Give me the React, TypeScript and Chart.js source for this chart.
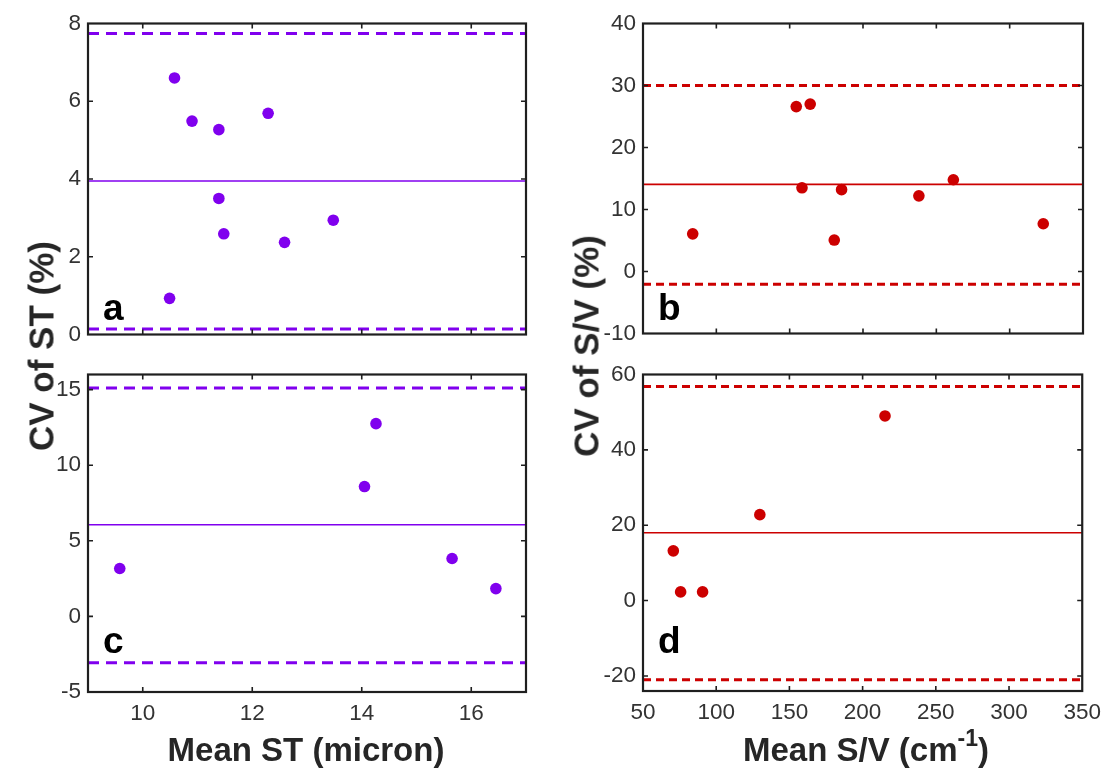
import React, { useEffect, useRef } from "react";
import { Chart, registerables } from "chart.js";

Chart.register(...registerables);

const FONT = '"Liberation Sans", Arial, Helvetica, sans-serif';
const PURPLE = "#8000ee";
const RED = "#cc0000";
const INK = "#1f1f1f";
const TICK_INK = "#333333";

// ---------- Panel a : ST repeatability (top-left) ----------
const aMeanST = [10.58, 10.9, 11.39, 12.29, 11.39, 11.48, 12.59, 13.48, 10.49];
const aCvST = [6.6, 5.49, 5.27, 5.69, 3.5, 2.59, 2.37, 2.94, 0.93];
const aBias = 3.95;
const aUpper = 7.74;
const aLower = 0.14;
const aYTicks = [0, 2, 4, 6, 8];

// ---------- Panel c : ST (bottom-left) ----------
const cMeanST = [9.58, 14.05, 14.26, 15.65, 16.45];
const cCvST = [3.17, 8.59, 12.75, 3.83, 1.84];
const cBias = 6.06;
const cUpper = 15.1;
const cLower = -3.07;
const cYTicks = [-5, 0, 5, 10, 15];

const stXTicks = [10, 12, 14, 16];
const stXRange = [9, 17];

// ---------- Panel b : S/V (top-right) ----------
const bMeanSV = [83.9, 154.5, 164, 158.4, 185.4, 180.4, 238.1, 261.6, 322.9];
const bCvSV = [6.07, 26.6, 27.0, 13.5, 13.2, 5.07, 12.2, 14.8, 7.7];
const bBias = 14.06;
const bUpper = 30.0;
const bLower = -2.04;
const bYTicks = [-10, 0, 10, 20, 30, 40];

// ---------- Panel d : S/V (bottom-right) ----------
const dMeanSV = [70.7, 75.7, 90.7, 129.8, 215.3];
const dCvSV = [13.2, 2.3, 2.3, 22.8, 49.0];
const dBias = 18.0;
const dUpper = 56.8;
const dLower = -21.0;
const dYTicks = [-20, 0, 20, 40, 60];

const svXTicks = [50, 100, 150, 200, 250, 300, 350];
const svXRange = [50, 350];

type PanelSpec = {
  L: number;
  T: number;
  R: number;
  B: number;
  xs: number[];
  ys: number[];
  bias: number;
  upper: number;
  lower: number;
  color: string;
  dash: number[];
  xRange: number[];
  yRange: number[];
  xTicks: number[];
  yTicks: number[];
  showX: boolean;
  letter: string;
  letterDx: number;
  letterDy: number;
};

const Y_AXIS_W = 60;
const PAD_TOP = 20;
const PAD_RIGHT = 26;
const X_AXIS_H = 38;
const PAD_BOTTOM_TOP_ROW = 12;
const TICK_FONT = 22.5;

function framePlugin(spec: PanelSpec) {
  return {
    id: "frame_" + spec.letter,
    afterDraw(chart: any) {
      const { ctx, chartArea } = chart;
      const { left, right, top, bottom } = chartArea;
      const xs = chart.scales.x;
      const ys = chart.scales.y;
      ctx.save();
      ctx.strokeStyle = INK;
      ctx.lineWidth = 1.6;
      const tl = 5;
      ctx.beginPath();
      spec.xTicks.forEach((v) => {
        if (v <= spec.xRange[0] || v >= spec.xRange[1]) return;
        const p = xs.getPixelForValue(v);
        ctx.moveTo(p, bottom);
        ctx.lineTo(p, bottom - tl);
        ctx.moveTo(p, top);
        ctx.lineTo(p, top + tl);
      });
      spec.yTicks.forEach((v) => {
        if (v <= spec.yRange[0] || v >= spec.yRange[1]) return;
        const p = ys.getPixelForValue(v);
        ctx.moveTo(left, p);
        ctx.lineTo(left + tl, p);
        ctx.moveTo(right, p);
        ctx.lineTo(right - tl, p);
      });
      ctx.stroke();
      ctx.lineWidth = 2.2;
      ctx.strokeRect(left, top, right - left, bottom - top);
      ctx.fillStyle = "#000000";
      ctx.font = `bold 37px ${FONT}`;
      ctx.textAlign = "left";
      ctx.textBaseline = "alphabetic";
      ctx.fillText(spec.letter, left + spec.letterDx, bottom - spec.letterDy);
      ctx.restore();
    },
  };
}

function Panel({ spec }: { spec: PanelSpec }) {
  const ref = useRef<HTMLCanvasElement>(null);
  const canvasLeft = spec.L - Y_AXIS_W;
  const canvasTop = spec.T - PAD_TOP;
  const width = spec.R + PAD_RIGHT - canvasLeft;
  const bottomExtra = spec.showX ? X_AXIS_H : PAD_BOTTOM_TOP_ROW;
  const height = spec.B + bottomExtra - canvasTop;

  useEffect(() => {
    const [xMin, xMax] = spec.xRange;
    const pts = spec.xs.map((x, i) => ({ x, y: spec.ys[i] }));
    const hline = (v: number) => [
      { x: xMin, y: v },
      { x: xMax, y: v },
    ];
    const chart = new Chart(ref.current as HTMLCanvasElement, {
      type: "scatter",
      data: {
        datasets: [
          {
            data: pts,
            backgroundColor: spec.color,
            borderColor: spec.color,
            pointRadius: 5.8,
            pointHoverRadius: 5.8,
            borderWidth: 0,
            order: 0,
          },
          {
            data: hline(spec.bias),
            showLine: true,
            borderColor: spec.color,
            borderWidth: 1.6,
            pointRadius: 0,
            order: 1,
          },
          {
            data: hline(spec.upper),
            showLine: true,
            borderColor: spec.color,
            borderWidth: 3,
            borderDash: spec.dash,
            pointRadius: 0,
            order: 1,
          },
          {
            data: hline(spec.lower),
            showLine: true,
            borderColor: spec.color,
            borderWidth: 3,
            borderDash: spec.dash,
            pointRadius: 0,
            order: 1,
          },
        ] as any,
      },
      options: {
        animation: false,
        responsive: true,
        maintainAspectRatio: false,
        layout: {
          padding: {
            top: PAD_TOP,
            right: PAD_RIGHT,
            bottom: spec.showX ? 0 : PAD_BOTTOM_TOP_ROW,
            left: 0,
          },
        },
        plugins: {
          legend: { display: false },
          tooltip: { enabled: false },
        },
        scales: {
          x: {
            type: "linear",
            min: xMin,
            max: xMax,
            afterBuildTicks: (s: any) => {
              s.ticks = spec.xTicks.map((v) => ({ value: v }));
            },
            afterFit: (s: any) => {
              s.height = spec.showX ? X_AXIS_H : 0;
            },
            grid: { display: false, drawTicks: false },
            border: { display: false },
            ticks: {
              display: spec.showX,
              autoSkip: false,
              maxRotation: 0,
              padding: 8,
              color: TICK_INK,
              font: { family: FONT, size: TICK_FONT },
            },
          },
          y: {
            type: "linear",
            min: spec.yRange[0],
            max: spec.yRange[1],
            afterBuildTicks: (s: any) => {
              s.ticks = spec.yTicks.map((v) => ({ value: v }));
            },
            afterFit: (s: any) => {
              s.width = Y_AXIS_W;
            },
            grid: { display: false, drawTicks: false },
            border: { display: false },
            ticks: {
              autoSkip: false,
              padding: 7,
              color: TICK_INK,
              font: { family: FONT, size: TICK_FONT },
            },
          },
        } as any,
      },
      plugins: [framePlugin(spec)],
    });
    return () => chart.destroy();
  }, []);

  return (
    <div
      style={{
        position: "absolute",
        left: canvasLeft,
        top: canvasTop,
        width,
        height,
      }}
    >
      <canvas ref={ref} />
    </div>
  );
}

const panels: PanelSpec[] = [
  {
    L: 88, T: 23, R: 526, B: 343,
    xs: aMeanST, ys: aCvST, bias: aBias, upper: aUpper, lower: aLower,
    color: PURPLE, dash: [11, 7], xRange: stXRange, yRange: [0, 8],
    xTicks: stXTicks, yTicks: aYTicks, showX: false,
    letter: "a", letterDx: 15, letterDy: 15,
  },
  {
    L: 643, T: 23, R: 1083, B: 342,
    xs: bMeanSV, ys: bCvSV, bias: bBias, upper: bUpper, lower: bLower,
    color: RED, dash: [8, 5], xRange: svXRange, yRange: [-10, 40],
    xTicks: svXTicks, yTicks: bYTicks, showX: false,
    letter: "b", letterDx: 15, letterDy: 14,
  },
  {
    L: 88, T: 374, R: 526, B: 692,
    xs: cMeanST, ys: cCvST, bias: cBias, upper: cUpper, lower: cLower,
    color: PURPLE, dash: [11, 7], xRange: stXRange, yRange: [-5, 16],
    xTicks: stXTicks, yTicks: cYTicks, showX: true,
    letter: "c", letterDx: 15, letterDy: 39,
  },
  {
    L: 643, T: 374, R: 1083, B: 691,
    xs: dMeanSV, ys: dCvSV, bias: dBias, upper: dUpper, lower: dLower,
    color: RED, dash: [8, 5], xRange: svXRange, yRange: [-24, 60],
    xTicks: svXTicks, yTicks: dYTicks, showX: true,
    letter: "d", letterDx: 15, letterDy: 38,
  },
];

const titleStyle: React.CSSProperties = {
  position: "absolute",
  fontFamily: FONT,
  fontWeight: "bold",
  fontSize: 33,
  color: "#262626",
  whiteSpace: "nowrap",
  lineHeight: 1,
};

export default function App() {
  return (
    <div
      style={{
        position: "absolute",
        left: 0,
        top: 0,
        width: 1104,
        height: 772,
        background: "#ffffff",
        overflow: "hidden",
      }}
    >
      {panels.map((p) => (
        <Panel key={p.letter} spec={p} />
      ))}
      <div
        style={{
          ...titleStyle,
          fontSize: 35,
          left: 41,
          top: 346,
          transform: "translate(-50%, -50%) rotate(-90deg)",
        }}
      >
        CV of ST (%)
      </div>
      <div
        style={{
          ...titleStyle,
          fontSize: 35,
          left: 586,
          top: 346,
          transform: "translate(-50%, -50%) rotate(-90deg)",
        }}
      >
        CV of S/V (%)
      </div>
      <div
        style={{
          ...titleStyle,
          left: 306,
          top: 749,
          transform: "translate(-50%, -50%)",
        }}
      >
        Mean ST (micron)
      </div>
      <div
        style={{
          ...titleStyle,
          left: 866,
          top: 749,
          transform: "translate(-50%, -50%)",
        }}
      >
        Mean S/V (cm
        <span style={{ fontSize: 23, position: "relative", top: -15 }}>-1</span>)
      </div>
    </div>
  );
}
